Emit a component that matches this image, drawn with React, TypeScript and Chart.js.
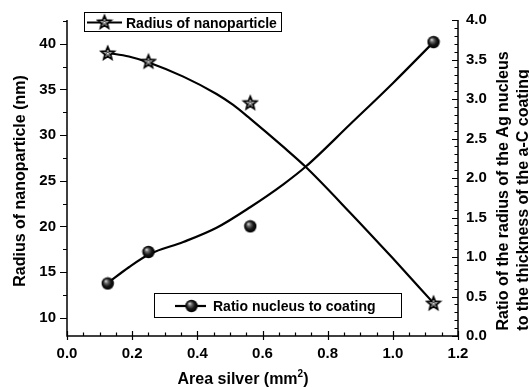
import React, { useEffect, useRef } from 'react';
import { Chart, registerables } from 'chart.js';

Chart.register(...registerables);

// measured points
const areaSilver = [0.125, 0.25, 0.5625, 1.125];
const radiusNm = [39.0, 38.08, 33.55, 11.6];
const ratioNucleusCoating = [0.665, 1.064, 1.388, 3.72];

// fitted (spline) curves
const radiusFitX = [0.125, 0.19, 0.255, 0.357, 0.459, 0.51, 0.562, 0.664, 0.733, 0.869, 1.0, 1.125];
const radiusFit = [39.0, 38.6, 37.9, 36.4, 34.5, 33.3, 31.8, 28.7, 26.5, 21.5, 16.5, 11.6];
const ratioFitX = [0.125, 0.19, 0.255, 0.357, 0.459, 0.562, 0.664, 0.733, 0.869, 1.0, 1.125];
const ratioFit = [0.67, 0.87, 1.04, 1.19, 1.37, 1.63, 1.92, 2.145, 2.68, 3.2, 3.72];

const xRange = [0, 1.2];
const yLeftRange = [8, 42.6];
const yRightRange = [0, 4];

const legendRadius = 'Radius of nanoparticle';
const legendRatio = 'Ratio nucleus to coating';
const titleLeft = 'Radius of nanoparticle (nm)';
const titleRight1 = 'Ratio of the radius of the Ag nucleus';
const titleRight2 = 'to the thickness of the a-C coating';
const titleX = 'Area silver (mm';

const FONT = '"Liberation Sans", Arial, sans-serif';

function starPath(ctx: CanvasRenderingContext2D, cx: number, cy: number, R: number, r: number) {
  ctx.beginPath();
  for (let i = 0; i < 10; i++) {
    const rad = i % 2 === 0 ? R : r;
    const a = -Math.PI / 2 + (i * Math.PI) / 5;
    const px = cx + rad * Math.cos(a);
    const py = cy + rad * Math.sin(a);
    if (i === 0) ctx.moveTo(px, py);
    else ctx.lineTo(px, py);
  }
  ctx.closePath();
}

function makeStar(): HTMLCanvasElement {
  const c = document.createElement('canvas');
  c.width = 18;
  c.height = 18;
  const g = c.getContext('2d')!;
  const cx = 9, cy = 9.6;
  starPath(g, cx, cy, 6.8, 3.0);
  g.fillStyle = '#fff';
  g.fill();
  g.strokeStyle = '#000';
  g.lineWidth = 1.8;
  g.lineJoin = 'miter';
  g.stroke();
  starPath(g, cx, cy + 0.2, 2.4, 1.1);
  g.strokeStyle = '#222';
  g.lineWidth = 0.9;
  g.stroke();
  return c;
}

function makeSphere(): HTMLCanvasElement {
  const c = document.createElement('canvas');
  c.width = 14;
  c.height = 14;
  const g = c.getContext('2d')!;
  const grad = g.createRadialGradient(5, 4.5, 0.3, 7, 7, 6.5);
  grad.addColorStop(0, '#d8d8d8');
  grad.addColorStop(0.25, '#6a6a6a');
  grad.addColorStop(0.6, '#151515');
  grad.addColorStop(1, '#000');
  g.beginPath();
  g.arc(7, 7, 6.2, 0, Math.PI * 2);
  g.fillStyle = grad;
  g.fill();
  return c;
}

export default function App() {
  const ref = useRef<HTMLCanvasElement | null>(null);

  useEffect(() => {
    if (!ref.current) return;
    const starImg = makeStar();
    const sphereImg = makeSphere();

    const decoPlugin = {
      id: 'deco',
      afterDraw(chart: any) {
        const { ctx, chartArea: a, scales } = chart;
        const sx = scales.x, sy = scales.y, sy1 = scales.y1;
        ctx.save();
        ctx.strokeStyle = '#000';
        ctx.lineWidth = 1.5;
        ctx.beginPath();
        ctx.moveTo(a.left, a.top);
        ctx.lineTo(a.left, a.bottom);
        ctx.lineTo(a.right, a.bottom);
        ctx.lineTo(a.right, a.top);
        ctx.stroke();

        ctx.lineWidth = 1.2;
        ctx.beginPath();
        // x ticks (inward)
        for (let i = 0; i <= 24; i++) {
          const v = i * 0.05;
          const px = Math.round(sx.getPixelForValue(v)) + 0.5;
          const major = i % 4 === 0;
          ctx.moveTo(px, a.bottom + (major ? 4 : 0));
          ctx.lineTo(px, a.bottom - (major ? 5 : 3.5));
        }
        // left y ticks (outward)
        for (let i = 4; i <= 17; i++) {
          const v = i * 2.5;
          if (v < yLeftRange[0] || v > yLeftRange[1]) continue;
          const py = Math.round(sy.getPixelForValue(v)) + 0.5;
          const major = i % 2 === 0;
          ctx.moveTo(a.left, py);
          ctx.lineTo(a.left - (major ? 7 : 4), py);
        }
        // right y ticks (inward)
        for (let i = 0; i <= 40; i++) {
          const v = i * 0.1;
          const py = Math.round(sy1.getPixelForValue(v)) + 0.5;
          const major = i % 5 === 0;
          ctx.moveTo(a.right, py);
          ctx.lineTo(a.right - (major ? 6 : 3.5), py);
        }
        ctx.stroke();

        ctx.fillStyle = '#000';
        // left title
        ctx.font = `bold 16px ${FONT}`;
        ctx.textAlign = 'center';
        ctx.textBaseline = 'alphabetic';
        ctx.save();
        ctx.translate(25, 181);
        ctx.rotate(-Math.PI / 2);
        ctx.fillText(titleLeft, 0, 0);
        ctx.restore();
        // right title
        ctx.save();
        ctx.translate(507.5, 191);
        ctx.rotate(-Math.PI / 2);
        ctx.fillText(titleRight1, 0, 0);
        ctx.restore();
        ctx.save();
        ctx.translate(527.5, 200);
        ctx.rotate(-Math.PI / 2);
        ctx.fillText(titleRight2, 0, 0);
        ctx.restore();
        // x title with superscript
        ctx.textAlign = 'left';
        ctx.font = `bold 16px ${FONT}`;
        const w1 = ctx.measureText(titleX).width;
        ctx.font = `bold 10px ${FONT}`;
        const w2 = ctx.measureText('2').width;
        ctx.font = `bold 16px ${FONT}`;
        const w3 = ctx.measureText(')').width;
        const total = w1 + w2 + w3;
        let tx = 243 - total / 2;
        const tby = 383.5;
        ctx.fillText(titleX, tx, tby);
        tx += w1;
        ctx.font = `bold 10px ${FONT}`;
        ctx.fillText('2', tx, tby - 7);
        tx += w2;
        ctx.font = `bold 16px ${FONT}`;
        ctx.fillText(')', tx, tby);

        // legend 1
        ctx.fillStyle = '#fff';
        ctx.fillRect(84.5, 12.5, 197, 19);
        ctx.strokeStyle = '#000';
        ctx.lineWidth = 1;
        ctx.strokeRect(84.5, 12.5, 197, 19);
        ctx.lineWidth = 2.2;
        ctx.beginPath();
        ctx.moveTo(87, 22.5);
        ctx.lineTo(122, 22.5);
        ctx.stroke();
        ctx.drawImage(starImg, 104.5 - 9, 22.5 - 9.6);
        ctx.fillStyle = '#000';
        ctx.font = `bold 14px ${FONT}`;
        ctx.fillText(legendRadius, 126, 28.3);

        // legend 2
        ctx.fillStyle = '#fff';
        ctx.fillRect(154.5, 293.5, 247, 24);
        ctx.lineWidth = 1;
        ctx.strokeRect(154.5, 293.5, 247, 24);
        ctx.lineWidth = 2.2;
        ctx.beginPath();
        ctx.moveTo(175, 306);
        ctx.lineTo(206, 306);
        ctx.stroke();
        ctx.drawImage(sphereImg, 191.5 - 7, 306 - 7);
        ctx.fillStyle = '#000';
        ctx.font = `bold 14px ${FONT}`;
        ctx.fillText(legendRatio, 213, 311);
        ctx.restore();
      },
    };

    const tickFont = { family: FONT, weight: 'bold' as const, size: 15 };

    const chart = new Chart(ref.current, {
      type: 'line',
      data: {
        datasets: [
          {
            label: 'Radius points',
            data: areaSilver.map((x, i) => ({ x, y: radiusNm[i] })),
            yAxisID: 'y',
            showLine: false,
            pointStyle: starImg as any,
            pointRadius: 7,
          },
          {
            label: 'Ratio points',
            data: areaSilver.map((x, i) => ({ x, y: ratioNucleusCoating[i] })),
            yAxisID: 'y1',
            showLine: false,
            pointStyle: sphereImg as any,
            pointRadius: 7,
          },
          {
            label: legendRadius,
            data: radiusFitX.map((x, i) => ({ x, y: radiusFit[i] })),
            yAxisID: 'y',
            borderColor: '#000',
            borderWidth: 2.2,
            pointRadius: 0,
            cubicInterpolationMode: 'monotone',
            fill: false,
          },
          {
            label: legendRatio,
            data: ratioFitX.map((x, i) => ({ x, y: ratioFit[i] })),
            yAxisID: 'y1',
            borderColor: '#000',
            borderWidth: 2.2,
            pointRadius: 0,
            cubicInterpolationMode: 'monotone',
            fill: false,
          },
        ],
      },
      options: {
        responsive: false,
        animation: false,
        layout: { padding: { top: 19, left: 0, right: 0, bottom: 0 } },
        plugins: { legend: { display: false }, tooltip: { enabled: false } },
        scales: {
          x: {
            type: 'linear',
            position: 'bottom',
            min: xRange[0],
            max: xRange[1],
            afterFit: (s: any) => { s.height = 51; },
            grid: { display: false, drawTicks: false },
            border: { display: false },
            ticks: {
              stepSize: 0.2,
              padding: 9,
              color: '#000',
              font: tickFont,
              maxRotation: 0,
              autoSkip: false,
              callback: (v: any) => Number(v).toFixed(1),
            },
          },
          y: {
            type: 'linear',
            position: 'left',
            min: yLeftRange[0],
            max: yLeftRange[1],
            afterFit: (s: any) => { s.width = 67; },
            grid: { display: false, drawTicks: false },
            border: { display: false },
            ticks: {
              stepSize: 5,
              includeBounds: false,
              padding: 11,
              color: '#000',
              font: tickFont,
              callback: (v: any) => String(Math.round(Number(v))),
            },
          },
          y1: {
            type: 'linear',
            position: 'right',
            min: yRightRange[0],
            max: yRightRange[1],
            afterFit: (s: any) => { s.width = 71; },
            grid: { display: false, drawTicks: false },
            border: { display: false },
            ticks: {
              stepSize: 0.5,
              padding: 8,
              color: '#000',
              font: tickFont,
              callback: (v: any) => Number(v).toFixed(1),
            },
          },
        },
      },
      plugins: [decoPlugin],
    } as any);

    return () => chart.destroy();
  }, []);

  return (
    <div style={{ position: 'absolute', left: 0, top: 0, width: 529, height: 387, background: '#fff' }}>
      <canvas ref={ref} width={529} height={387} style={{ width: 529, height: 387 }} />
    </div>
  );
}
